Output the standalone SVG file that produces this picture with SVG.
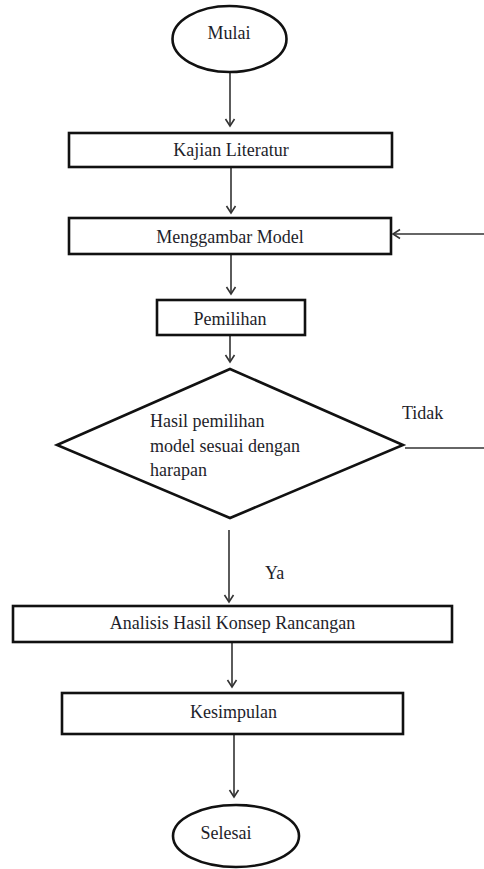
<svg xmlns="http://www.w3.org/2000/svg" width="484" height="869" viewBox="0 0 484 869">
<style>
.shape{fill:#fff;stroke:#111;stroke-width:2.6}
.lbl{font-family:"Liberation Serif","Times New Roman",serif;font-size:18px;fill:#1e1e2a}
.c{text-anchor:middle}
.conn{stroke:#333;stroke-width:1.6;fill:none}
</style>
<defs>
<marker id="ah" markerUnits="userSpaceOnUse" markerWidth="12" markerHeight="12" refX="8" refY="6" orient="auto">
<path d="M1,1.5 L8,6 L1,10.5" fill="none" stroke="#333" stroke-width="1.6"/>
</marker>
</defs>
<rect width="484" height="869" fill="#fff"/>
<g id="connectors">
<line class="conn" x1="230" y1="73" x2="230" y2="126" marker-end="url(#ah)"/>
<line class="conn" x1="231" y1="168" x2="231" y2="213" marker-end="url(#ah)"/>
<line class="conn" x1="231" y1="255" x2="231" y2="294" marker-end="url(#ah)"/>
<line class="conn" x1="230" y1="336" x2="230" y2="362" marker-end="url(#ah)"/>
<line class="conn" x1="229" y1="530" x2="229" y2="602" marker-end="url(#ah)"/>
<line class="conn" x1="232" y1="643" x2="232" y2="687" marker-end="url(#ah)"/>
<line class="conn" x1="234" y1="735" x2="234" y2="797" marker-end="url(#ah)"/>
<line class="conn" x1="405" y1="448" x2="484" y2="448"/>
<line class="conn" x1="484" y1="234" x2="393" y2="234" marker-end="url(#ah)"/>
<text class="lbl" x="402" y="419">Tidak</text>
<text class="lbl" x="265" y="579">Ya</text>
</g>
<g id="mulai">
<ellipse class="shape" cx="229.5" cy="39" rx="57" ry="33"/>
<text class="lbl c" x="229" y="39">Mulai</text>
</g>
<g id="kajian">
<rect class="shape" x="69" y="133" width="323" height="34"/>
<text class="lbl c" x="231" y="156">Kajian Literatur</text>
</g>
<g id="menggambar">
<rect class="shape" x="69" y="218" width="322" height="36"/>
<text class="lbl c" x="230" y="243">Menggambar Model</text>
</g>
<g id="pemilihan">
<rect class="shape" x="157" y="300" width="148" height="35"/>
<text class="lbl c" x="230" y="325">Pemilihan</text>
</g>
<g id="keputusan">
<polygon class="shape" points="230,369 403,445 230,518 57,445"/>
<text class="lbl" x="150" y="427">Hasil pemilihan</text>
<text class="lbl" x="150" y="451.5">model sesuai dengan</text>
<text class="lbl" x="150" y="476">harapan</text>
</g>
<g id="analisis">
<rect class="shape" x="13" y="606" width="439" height="36"/>
<text class="lbl c" x="232.5" y="629">Analisis Hasil Konsep Rancangan</text>
</g>
<g id="kesimpulan">
<rect class="shape" x="62" y="693" width="341" height="41"/>
<text class="lbl c" x="233.5" y="718">Kesimpulan</text>
</g>
<g id="selesai">
<ellipse class="shape" cx="236" cy="836" rx="63" ry="31"/>
<text class="lbl c" x="226" y="839">Selesai</text>
</g>
</svg>
